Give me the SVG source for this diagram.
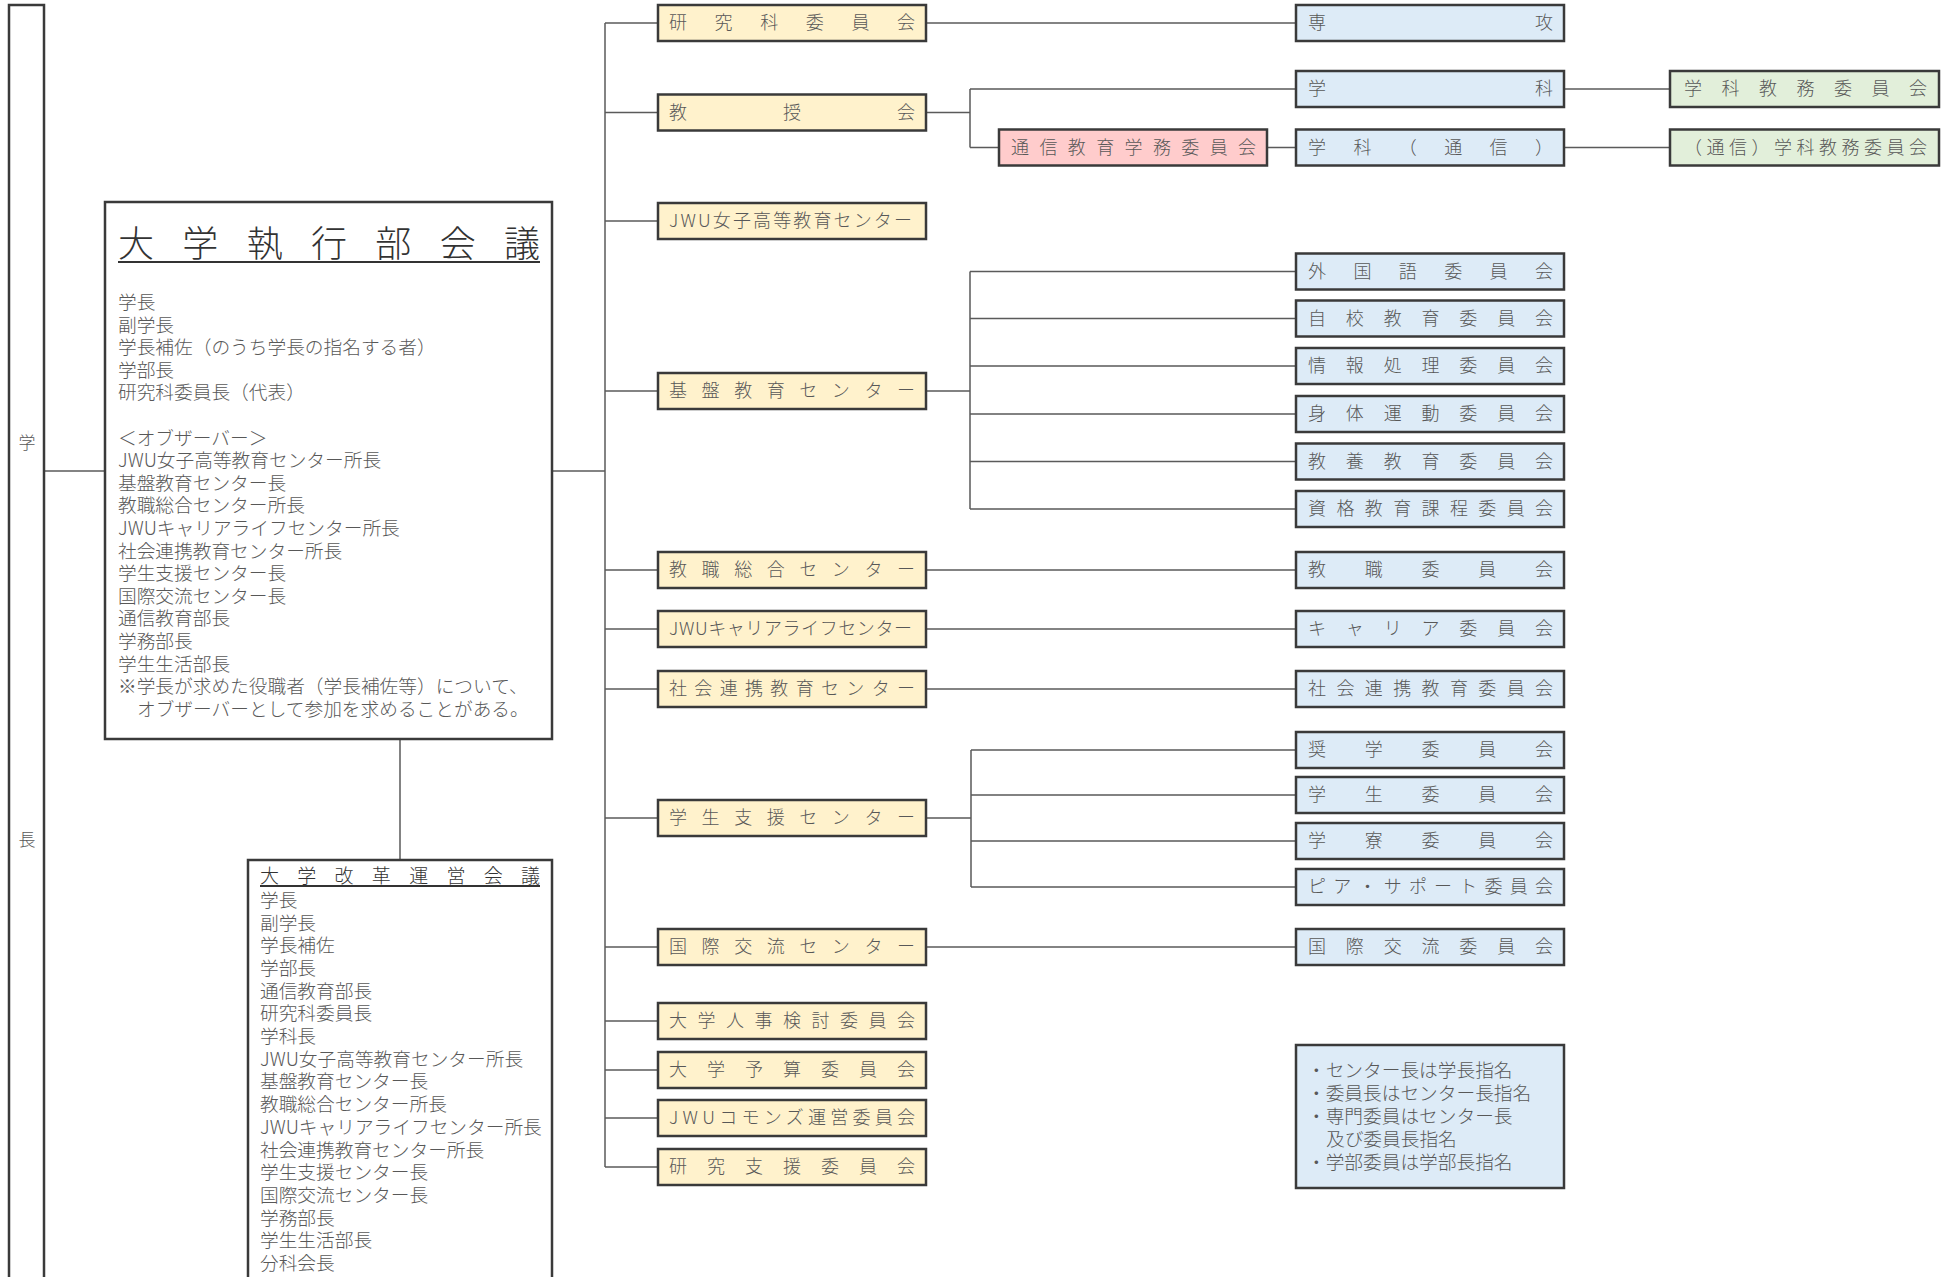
<svg xmlns="http://www.w3.org/2000/svg" width="1944" height="1277" viewBox="0 0 1944 1277">
<style>
.box{stroke:#3a3a3a;stroke-width:2.5}
.y{fill:#FFF2CC}.b{fill:#DDEBF7}.p{fill:#FFCCCC}.g{fill:#E2EFDA}.w{fill:#FFFFFF}
text{font-family:'Noto Sans CJK JP','Noto Sans',sans-serif;fill:#585858;font-weight:300;transform:translateY(-2px)}
.lbl{font-size:18px;dominant-baseline:central}
.body{font-size:18.7px;dominant-baseline:central}
.conn line,.conn path{stroke:#5a5a5a;stroke-width:1.5;fill:none}
.ul{stroke:#333;stroke-width:2}
</style>
<rect width="1944" height="1277" fill="#fff"/>
<g class="conn">
<line x1="44" y1="471" x2="105" y2="471"/>
<line x1="552" y1="471" x2="605" y2="471"/>
<line x1="400" y1="739" x2="400" y2="860"/>
<line x1="605" y1="23" x2="605" y2="1167"/>
<line x1="605" y1="23" x2="658" y2="23"/>
<line x1="605" y1="112.5" x2="658" y2="112.5"/>
<line x1="605" y1="221" x2="658" y2="221"/>
<line x1="605" y1="391" x2="658" y2="391"/>
<line x1="605" y1="570" x2="658" y2="570"/>
<line x1="605" y1="629" x2="658" y2="629"/>
<line x1="605" y1="689" x2="658" y2="689"/>
<line x1="605" y1="818" x2="658" y2="818"/>
<line x1="605" y1="947" x2="658" y2="947"/>
<line x1="605" y1="1021" x2="658" y2="1021"/>
<line x1="605" y1="1070" x2="658" y2="1070"/>
<line x1="605" y1="1118" x2="658" y2="1118"/>
<line x1="605" y1="1167" x2="658" y2="1167"/>
<line x1="926" y1="23" x2="1296" y2="23"/>
<path d="M926 112.5H970M970 89V147.5M970 89H1296M970 147.5H999M1267 147.5H1296"/>
<line x1="1564" y1="89" x2="1670" y2="89"/>
<line x1="1564" y1="147.5" x2="1670" y2="147.5"/>
<path d="M926 391H970M970 271.5V509M970 271.5H1296M970 318.5H1296M970 366H1296M970 414H1296M970 461.5H1296M970 509H1296"/>
<line x1="926" y1="570" x2="1296" y2="570"/>
<line x1="926" y1="629" x2="1296" y2="629"/>
<line x1="926" y1="689" x2="1296" y2="689"/>
<path d="M926 818H971M971 750V887M971 750H1296M971 795H1296M971 841H1296M971 887H1296"/>
<line x1="926" y1="947" x2="1296" y2="947"/>
</g>
<g id="gakucho">
<rect class="box w" x="9" y="5" width="35" height="1290"/>
<text x="27" y="443" font-size="17" text-anchor="middle" dominant-baseline="central">学</text>
<text x="27" y="840" font-size="17" text-anchor="middle" dominant-baseline="central">長</text>
</g>
<g id="shikkobu">
<rect class="box w" x="105" y="202" width="447" height="537"/>
<text x="118" y="243" font-size="36" dominant-baseline="central" textLength="422" lengthAdjust="spacing" style="fill:#333">大学執行部会議</text>
<line class="ul" x1="118" y1="262" x2="540" y2="262"/>
<text class="body">
<tspan x="118" y="302">学長</tspan>
<tspan x="118" y="324.6">副学長</tspan>
<tspan x="118" y="347.2">学長補佐（のうち学長の指名する者）</tspan>
<tspan x="118" y="369.8">学部長</tspan>
<tspan x="118" y="392.4">研究科委員長（代表）</tspan>
<tspan x="118" y="437.6">＜オブザーバー＞</tspan>
<tspan x="118" y="460.2">JWU女子高等教育センター所長</tspan>
<tspan x="118" y="482.8">基盤教育センター長</tspan>
<tspan x="118" y="505.4">教職総合センター所長</tspan>
<tspan x="118" y="528">JWUキャリアライフセンター所長</tspan>
<tspan x="118" y="550.6">社会連携教育センター所長</tspan>
<tspan x="118" y="573.2">学生支援センター長</tspan>
<tspan x="118" y="595.8">国際交流センター長</tspan>
<tspan x="118" y="618.4">通信教育部長</tspan>
<tspan x="118" y="641">学務部長</tspan>
<tspan x="118" y="663.6">学生生活部長</tspan>
<tspan x="118" y="686.2">※学長が求めた役職者（学長補佐等）について、</tspan>
<tspan x="137" y="708.8">オブザーバーとして参加を求めることがある。</tspan>
</text>
</g>
<g id="kaikaku">
<rect class="box w" x="248" y="860" width="304" height="440"/>
<text x="260" y="876.5" font-size="19" dominant-baseline="central" textLength="280" lengthAdjust="spacing" style="fill:#333">大学改革運営会議</text>
<line class="ul" x1="260" y1="886" x2="540" y2="886"/>
<text class="body">
<tspan x="260" y="900">学長</tspan>
<tspan x="260" y="922.7">副学長</tspan>
<tspan x="260" y="945.4">学長補佐</tspan>
<tspan x="260" y="968">学部長</tspan>
<tspan x="260" y="990.7">通信教育部長</tspan>
<tspan x="260" y="1013.4">研究科委員長</tspan>
<tspan x="260" y="1036.1">学科長</tspan>
<tspan x="260" y="1058.8">JWU女子高等教育センター所長</tspan>
<tspan x="260" y="1081.4">基盤教育センター長</tspan>
<tspan x="260" y="1104.1">教職総合センター所長</tspan>
<tspan x="260" y="1126.8">JWUキャリアライフセンター所長</tspan>
<tspan x="260" y="1149.5">社会連携教育センター所長</tspan>
<tspan x="260" y="1172.2">学生支援センター長</tspan>
<tspan x="260" y="1194.8">国際交流センター長</tspan>
<tspan x="260" y="1217.5">学務部長</tspan>
<tspan x="260" y="1240.2">学生生活部長</tspan>
<tspan x="260" y="1262.9">分科会長</tspan>
</text>
</g>
<g id="kenkyuka"><rect class="box y" x="658" y="5" width="268" height="36"/><text class="lbl" x="669" y="23" textLength="246" lengthAdjust="spacing">研究科委員会</text></g>
<g id="kyojukai"><rect class="box y" x="658" y="94.5" width="268" height="36"/><text class="lbl" x="669" y="112.5" textLength="246" lengthAdjust="spacing">教授会</text></g>
<g id="jwu-joshi"><rect class="box y" x="658" y="203" width="268" height="36"/><text class="lbl" x="669" y="221" textLength="243" lengthAdjust="spacing">JWU女子高等教育センター</text></g>
<g id="kiban"><rect class="box y" x="658" y="373" width="268" height="36"/><text class="lbl" x="669" y="391" textLength="246" lengthAdjust="spacing">基盤教育センター</text></g>
<g id="kyoshoku"><rect class="box y" x="658" y="552" width="268" height="36"/><text class="lbl" x="669" y="570" textLength="246" lengthAdjust="spacing">教職総合センター</text></g>
<g id="career"><rect class="box y" x="658" y="611" width="268" height="36"/><text class="lbl" x="669" y="629" textLength="243" lengthAdjust="spacing">JWUキャリアライフセンター</text></g>
<g id="shakai"><rect class="box y" x="658" y="671" width="268" height="36"/><text class="lbl" x="669" y="689" textLength="246" lengthAdjust="spacing">社会連携教育センター</text></g>
<g id="gakusei"><rect class="box y" x="658" y="800" width="268" height="36"/><text class="lbl" x="669" y="818" textLength="246" lengthAdjust="spacing">学生支援センター</text></g>
<g id="kokusai"><rect class="box y" x="658" y="929" width="268" height="36"/><text class="lbl" x="669" y="947" textLength="246" lengthAdjust="spacing">国際交流センター</text></g>
<g id="jinji"><rect class="box y" x="658" y="1003" width="268" height="36"/><text class="lbl" x="669" y="1021" textLength="246" lengthAdjust="spacing">大学人事検討委員会</text></g>
<g id="yosan"><rect class="box y" x="658" y="1052" width="268" height="36"/><text class="lbl" x="669" y="1070" textLength="246" lengthAdjust="spacing">大学予算委員会</text></g>
<g id="commons"><rect class="box y" x="658" y="1100" width="268" height="36"/><text class="lbl" x="669" y="1118" textLength="246" lengthAdjust="spacing">JWUコモンズ運営委員会</text></g>
<g id="kenkyushien"><rect class="box y" x="658" y="1149" width="268" height="36"/><text class="lbl" x="669" y="1167" textLength="246" lengthAdjust="spacing">研究支援委員会</text></g>
<g id="tsushin-gakumu"><rect class="box p" x="999" y="129.5" width="268" height="36"/><text class="lbl" x="1011" y="147.5" textLength="245" lengthAdjust="spacing">通信教育学務委員会</text></g>
<g id="senko"><rect class="box b" x="1296" y="5" width="268" height="36"/><text class="lbl" x="1308" y="23" textLength="245" lengthAdjust="spacing">専攻</text></g>
<g id="gakka"><rect class="box b" x="1296" y="71" width="268" height="36"/><text class="lbl" x="1308" y="89" textLength="245" lengthAdjust="spacing">学科</text></g>
<g id="gakka-tsushin"><rect class="box b" x="1296" y="129.5" width="268" height="36"/><text class="lbl" x="1308" y="147.5" textLength="245" lengthAdjust="spacing">学科（通信）</text></g>
<g id="gakka-kyomu"><rect class="box g" x="1670" y="71" width="269" height="36"/><text class="lbl" x="1684" y="89" textLength="243" lengthAdjust="spacing">学科教務委員会</text></g>
<g id="tsushin-gakka-kyomu"><rect class="box g" x="1670" y="129.5" width="269" height="36"/><text class="lbl" x="1684" y="147.5" textLength="243" lengthAdjust="spacing">（通信）学科教務委員会</text></g>
<g id="gaikokugo"><rect class="box b" x="1296" y="253.5" width="268" height="36"/><text class="lbl" x="1308" y="271.5" textLength="245" lengthAdjust="spacing">外国語委員会</text></g>
<g id="jiko"><rect class="box b" x="1296" y="300.5" width="268" height="36"/><text class="lbl" x="1308" y="318.5" textLength="245" lengthAdjust="spacing">自校教育委員会</text></g>
<g id="joho"><rect class="box b" x="1296" y="348" width="268" height="36"/><text class="lbl" x="1308" y="366" textLength="245" lengthAdjust="spacing">情報処理委員会</text></g>
<g id="shintai"><rect class="box b" x="1296" y="396" width="268" height="36"/><text class="lbl" x="1308" y="414" textLength="245" lengthAdjust="spacing">身体運動委員会</text></g>
<g id="kyoyo"><rect class="box b" x="1296" y="443.5" width="268" height="36"/><text class="lbl" x="1308" y="461.5" textLength="245" lengthAdjust="spacing">教養教育委員会</text></g>
<g id="shikaku"><rect class="box b" x="1296" y="491" width="268" height="36"/><text class="lbl" x="1308" y="509" textLength="245" lengthAdjust="spacing">資格教育課程委員会</text></g>
<g id="kyoshoku-iin"><rect class="box b" x="1296" y="552" width="268" height="36"/><text class="lbl" x="1308" y="570" textLength="245" lengthAdjust="spacing">教職委員会</text></g>
<g id="career-iin"><rect class="box b" x="1296" y="611" width="268" height="36"/><text class="lbl" x="1308" y="629" textLength="245" lengthAdjust="spacing">キャリア委員会</text></g>
<g id="shakai-iin"><rect class="box b" x="1296" y="671" width="268" height="36"/><text class="lbl" x="1308" y="689" textLength="245" lengthAdjust="spacing">社会連携教育委員会</text></g>
<g id="shogaku"><rect class="box b" x="1296" y="732" width="268" height="36"/><text class="lbl" x="1308" y="750" textLength="245" lengthAdjust="spacing">奨学委員会</text></g>
<g id="gakusei-iin"><rect class="box b" x="1296" y="777" width="268" height="36"/><text class="lbl" x="1308" y="795" textLength="245" lengthAdjust="spacing">学生委員会</text></g>
<g id="gakuryo"><rect class="box b" x="1296" y="823" width="268" height="36"/><text class="lbl" x="1308" y="841" textLength="245" lengthAdjust="spacing">学寮委員会</text></g>
<g id="peer"><rect class="box b" x="1296" y="869" width="268" height="36"/><text class="lbl" x="1308" y="887" textLength="245" lengthAdjust="spacing">ピア・サポート委員会</text></g>
<g id="kokusai-iin"><rect class="box b" x="1296" y="929" width="268" height="36"/><text class="lbl" x="1308" y="947" textLength="245" lengthAdjust="spacing">国際交流委員会</text></g>
<g id="note">
<rect class="box b" x="1296" y="1045" width="268" height="143"/>
<text class="body">
<tspan x="1307" y="1070">・センター長は学長指名</tspan>
<tspan x="1307" y="1093">・委員長はセンター長指名</tspan>
<tspan x="1307" y="1116">・専門委員はセンター長</tspan>
<tspan x="1326" y="1139">及び委員長指名</tspan>
<tspan x="1307" y="1162">・学部委員は学部長指名</tspan>
</text>
</g>
</svg>
